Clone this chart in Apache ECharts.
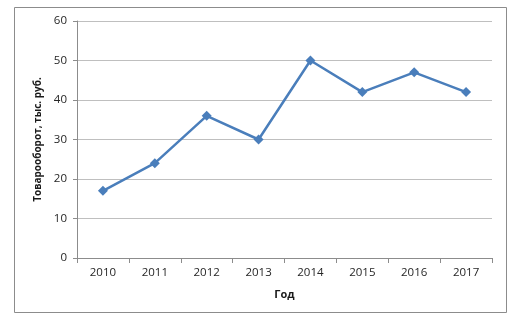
<!DOCTYPE html>
<html>
<head>
<meta charset="utf-8">
<script src="https://cdn.jsdelivr.net/npm/echarts@6/dist/echarts.min.js"></script>
<style>
  html, body { margin: 0; padding: 0; background: #fff; }
  #chart { width: 515px; height: 322px; }
</style>
</head>
<body>
<div id="chart"></div>
<script>
// Annual turnover, thousand roubles
const years = ['2010', '2011', '2012', '2013', '2014', '2015', '2016', '2017'];
const turnover = [17, 24, 36, 30, 50, 42, 47, 42];
const yTicks = { min: 0, max: 60, interval: 10 };

const chart = echarts.init(document.getElementById('chart'), null, { renderer: 'canvas' });
const font = '"Open Sans", "DejaVu Sans", sans-serif';

chart.setOption({
  animation: false,
  backgroundColor: '#ffffff',
  graphic: [{
    type: 'rect',
    shape: { x: 14.5, y: 7.5, width: 492, height: 305 },
    style: { fill: 'none', stroke: '#8c8c8c', lineWidth: 1 },
    silent: true
  }],
  grid: { left: 77, right: 23, top: 21, bottom: 64 },
  xAxis: {
    type: 'category',
    data: years,
    boundaryGap: true,
    name: 'Год',
    nameLocation: 'middle',
    nameGap: 31,
    nameTextStyle: { fontFamily: font, fontSize: 11, fontWeight: 'bold', color: '#1a1a1a' },
    axisLine: { lineStyle: { color: '#8c8c8c', width: 1 } },
    axisTick: { show: true, alignWithLabel: false, length: 5, lineStyle: { color: '#8c8c8c' } },
    axisLabel: { fontFamily: font, fontSize: 11.5, color: '#262626', margin: 9 },
    splitLine: { show: false }
  },
  yAxis: {
    type: 'value',
    min: yTicks.min,
    max: yTicks.max,
    interval: yTicks.interval,
    name: 'Товарооборот, тыс. руб.',
    nameLocation: 'middle',
    nameGap: 33,
    nameRotate: 90,
    nameTextStyle: { fontFamily: font, fontSize: 10, fontWeight: 'bold', color: '#1a1a1a' },
    axisLine: { show: true, lineStyle: { color: '#8c8c8c', width: 1 } },
    axisTick: { show: true, length: 4, lineStyle: { color: '#8c8c8c' } },
    axisLabel: { fontFamily: font, fontSize: 11.5, color: '#262626', margin: 10 },
    splitLine: { show: true, lineStyle: { color: '#bfbfbf', width: 1 } }
  },
  series: [{
    type: 'line',
    data: turnover,
    symbol: 'diamond',
    symbolSize: 10,
    lineStyle: { color: '#4a7ebb', width: 2.5 },
    itemStyle: { color: '#4a7ebb' }
  }]
});
</script>
</body>
</html>
